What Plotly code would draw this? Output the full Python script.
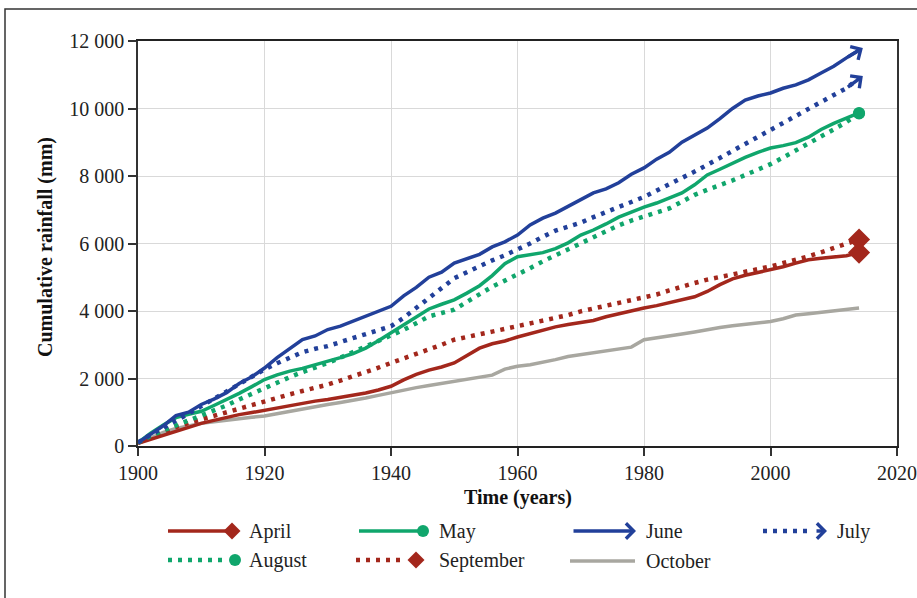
import plotly.graph_objects as go

# ---------------- data ----------------
years = list(range(1900, 2015, 2))

april = [80, 200, 320, 450, 560, 670, 760, 850, 930, 990,
         1060, 1130, 1200, 1270, 1330, 1380, 1440, 1500, 1570, 1660,
         1770, 1960, 2120, 2250, 2340, 2460, 2680, 2900, 3030, 3110,
         3230, 3330, 3430, 3530, 3600, 3660, 3720, 3830, 3920, 4000,
         4090, 4160, 4240, 4330, 4420, 4580, 4780, 4950, 5060, 5140,
         5220, 5310, 5420, 5520, 5560, 5590, 5640, 5730]

may = [100, 380, 620, 840, 940, 1030, 1200, 1370, 1560, 1760,
       1970, 2110, 2220, 2300, 2400, 2510, 2620, 2740, 2900, 3120,
       3350, 3600, 3830, 4060, 4200, 4330, 4530, 4750, 5050, 5400,
       5610, 5680, 5730, 5850, 6020, 6250, 6400, 6580, 6780, 6930,
       7080, 7200, 7340, 7500, 7740, 8030, 8200, 8380, 8550, 8700,
       8830, 8900, 8990, 9150, 9380, 9560, 9720, 9870]

june = [100, 350, 600, 900, 1000, 1230, 1390, 1580, 1850, 2050,
        2310, 2620, 2900, 3150, 3260, 3450, 3550, 3700, 3850, 4000,
        4140, 4450, 4700, 5000, 5150, 5420, 5550, 5680, 5900, 6050,
        6250, 6550, 6750, 6900, 7100, 7290, 7500, 7620, 7800, 8050,
        8240, 8500, 8700, 9000, 9200, 9420, 9700, 10000, 10250, 10370,
        10460, 10600, 10700, 10850, 11050, 11250, 11500, 11730]

july = [100, 340, 540, 740, 960, 1180, 1400, 1610, 1830, 2050,
        2270, 2450, 2620, 2780, 2880, 2960, 3080, 3200, 3320, 3430,
        3550, 3800, 4100, 4380, 4680, 4970, 5150, 5330, 5500, 5650,
        5810, 6000, 6200, 6380, 6500, 6620, 6780, 6920, 7080, 7230,
        7380, 7560, 7740, 7920, 8130, 8330, 8540, 8750, 8950, 9160,
        9360, 9570, 9780, 9990, 10200, 10400, 10600, 10900]

august = [100, 300, 460, 610, 750, 890, 1050, 1200, 1380, 1550,
          1720, 1880, 2040, 2190, 2320, 2460, 2620, 2780, 2940, 3100,
          3250, 3440, 3640, 3840, 3940, 4040, 4270, 4500, 4720, 4900,
          5070, 5270, 5470, 5650, 5830, 6000, 6180, 6360, 6540, 6680,
          6800, 6920, 7040, 7240, 7440, 7590, 7720, 7870, 8030, 8190,
          8350, 8550, 8750, 8950, 9150, 9380, 9600, 9850]

september = [100, 260, 420, 560, 680, 790, 880, 980, 1090, 1210,
             1330, 1430, 1530, 1630, 1720, 1820, 1940, 2060, 2190, 2320,
             2460, 2590, 2710, 2850, 3000, 3150, 3240, 3310, 3390, 3470,
             3550, 3620, 3700, 3780, 3880, 3990, 4070, 4150, 4230, 4310,
             4380, 4490, 4610, 4730, 4830, 4930, 5000, 5080, 5160, 5240,
             5320, 5410, 5510, 5620, 5740, 5860, 5980, 6120]

october = [80, 250, 400, 520, 600, 670, 720, 770, 810, 850,
           890, 960, 1040, 1110, 1170, 1230, 1290, 1350, 1420, 1500,
           1580, 1650, 1730, 1790, 1850, 1920, 1980, 2030, 2100, 2280,
           2360, 2410, 2480, 2560, 2650, 2710, 2770, 2830, 2870, 2930,
           3150, 3200, 3260, 3320, 3380, 3450, 3510, 3560, 3610, 3650,
           3690, 3770, 3880, 3920, 3960, 3990, 4040, 4090]

x_ticks = [1900, 1920, 1940, 1960, 1980, 2000, 2020]
y_ticks = [0, 2000, 4000, 6000, 8000, 10000, 12000]

# ---------------- styles ----------------
RED = '#A3271C'
GREEN = '#10A66C'
BLUE = '#22409A'
GRAY = '#A8A7A0'
DOT = '4px,6px'
FONT = 'Liberation Serif'

W, H = 917, 598
L, R, T, B = 138, 897, 41, 446


def px(x):
    return (x - L) / (R - L)


def py(y):
    return (B - y) / (B - T)


series = [
    ('October', october, GRAY, None, None),
    ('April', april, RED, None, 'diamond'),
    ('September', september, RED, DOT, 'diamond'),
    ('August', august, GREEN, DOT, 'circle'),
    ('May', may, GREEN, None, 'circle'),
    ('July', july, BLUE, DOT, 'arrow'),
    ('June', june, BLUE, None, 'arrow'),
]

fig = go.Figure()
annotations = []
shapes = []

for name, vals, col, dash, end in series:
    fig.add_trace(go.Scatter(
        x=years, y=vals, mode='lines', name=name, showlegend=False,
        line=dict(color=col, width=4.5 if dash else 3.5,
                  dash=dash if dash else 'solid'),
    ))
    if end in ('diamond', 'circle'):
        fig.add_trace(go.Scatter(
            x=[years[-1]], y=[vals[-1]], mode='markers', showlegend=False,
            marker=dict(symbol=end, color=col, size=17 if end == 'diamond' else 12,
                        line=dict(width=0)),
        ))
    elif end == 'arrow':
        annotations.append(dict(
            x=years[-1] + 0.6, y=vals[-1] + 60, ax=years[-2], ay=vals[-2],
            xref='x', yref='y', axref='x', ayref='y', text='',
            showarrow=True, arrowhead=4, arrowsize=0.85, arrowwidth=3.5,
            arrowcolor=col,
        ))

# ---------------- custom legend ----------------
legend_items = [
    # name, color, dash, end, line x0, line x1 (px), marker x, text x, row y
    ('April', RED, None, 'diamond', 168, 230, 232, 247, 531),
    ('May', GREEN, None, 'circle', 359, 422, 423, 437, 531),
    ('June', BLUE, None, 'arrow', 572, 636, 636, 644, 531),
    ('July', BLUE, DOT, 'arrow', 763, 810, 827, 835, 531),
    ('August', GREEN, DOT, 'circle', 168, 228, 235, 247, 560),
    ('September', RED, DOT, 'diamond', 356, 404, 416, 437, 560),
    ('October', GRAY, None, None, 570, 635, None, 644, 561),
]
for name, col, dash, end, x0, x1, mx, tx, ry in legend_items:
    if end == 'arrow' and dash is None:
        annotations.append(dict(
            x=px(mx), y=py(ry), xref='paper', yref='paper', ax=x0 - mx, ay=0,
            text='', showarrow=True, arrowhead=4, arrowsize=0.85, arrowwidth=3.5,
            arrowcolor=col))
    else:
        shapes.append(dict(type='line', xref='paper', yref='paper',
                           x0=px(x0), x1=px(x1), y0=py(ry), y1=py(ry),
                           line=dict(color=col, width=4.5 if dash else 3.5,
                                     dash=dash if dash else 'solid')))
        if end == 'arrow':
            annotations.append(dict(
                x=px(mx), y=py(ry), xref='paper', yref='paper', ax=-12, ay=0,
                text='', showarrow=True, arrowhead=4, arrowsize=0.85, arrowwidth=3.5,
                arrowcolor=col))
        elif end == 'diamond':
            shapes.append(dict(type='path', xref='paper', yref='paper',
                               xsizemode='pixel', ysizemode='pixel',
                               xanchor=px(mx), yanchor=py(ry),
                               path='M -8.5 0 L 0 8.5 L 8.5 0 L 0 -8.5 Z',
                               fillcolor=col, line=dict(width=0)))
        elif end == 'circle':
            shapes.append(dict(type='circle', xref='paper', yref='paper',
                               xsizemode='pixel', ysizemode='pixel',
                               xanchor=px(mx), yanchor=py(ry),
                               x0=-6, x1=6, y0=-6, y1=6,
                               fillcolor=col, line=dict(width=0)))
    annotations.append(dict(
        x=px(tx), y=py(ry), xref='paper', yref='paper', text=name,
        showarrow=False, xanchor='left', yanchor='middle',
        font=dict(family=FONT, size=20, color='#222')))

# axis titles
annotations.append(dict(
    x=px(518), y=py(497), xref='paper', yref='paper', text='<b>Time (years)</b>',
    showarrow=False, xanchor='center', yanchor='middle',
    font=dict(family=FONT, size=20, color='#111')))
annotations.append(dict(
    x=px(45), y=py(247), xref='paper', yref='paper',
    text='<b>Cumulative rainfall (mm)</b>', textangle=-90,
    showarrow=False, xanchor='center', yanchor='middle',
    font=dict(family=FONT, size=20, color='#111')))

# outer frame
shapes.append(dict(type='rect', xref='paper', yref='paper',
                   x0=px(5), x1=px(1000), y0=py(700), y1=py(9),
                   line=dict(color='#333', width=1.5), layer='below'))

fig.update_layout(
    width=W, height=H,
    margin=dict(l=L, r=W - R, t=T, b=H - B),
    paper_bgcolor='white', plot_bgcolor='white',
    separators='. ',
    showlegend=False,
    font=dict(family=FONT, size=20, color='#222'),
    xaxis=dict(range=[1900, 2020], tickvals=x_ticks, showgrid=True,
               gridcolor='#D9D9D9', gridwidth=1.2, zeroline=False,
               showline=True, linecolor='#222', linewidth=1.5, mirror=True,
               ticks='outside', ticklen=8, tickcolor='#333', tickwidth=1.5,
               automargin=False,
               tickfont=dict(family=FONT, size=20, color='#222')),
    yaxis=dict(range=[0, 12000], tickvals=y_ticks, tickformat=',d',
               showgrid=True, gridcolor='#D9D9D9', gridwidth=1.2, zeroline=False,
               showline=True, linecolor='#333', linewidth=1.5, mirror=True,
               ticks='outside', ticklen=8, tickcolor='#333', tickwidth=1.5,
               automargin=False,
               tickfont=dict(family=FONT, size=20, color='#222')),
    shapes=shapes,
    annotations=annotations,
)

fig.write_html('out.html',
               config={'displayModeBar': False},
               post_script="document.body.style.margin='0';"
                           "document.body.style.overflow='hidden';")
